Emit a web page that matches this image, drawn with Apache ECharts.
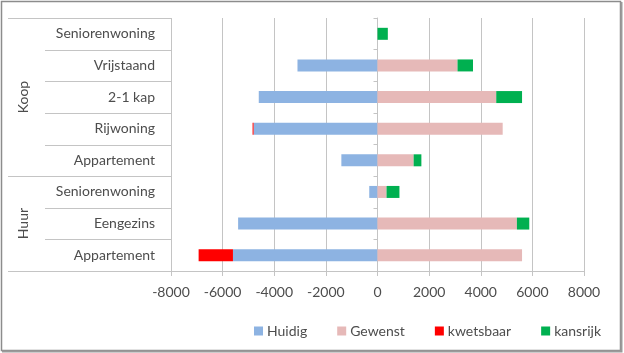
<!DOCTYPE html>
<html>
<head>
<meta charset="utf-8">
<script src="https://cdn.jsdelivr.net/npm/echarts@6/dist/echarts.min.js"></script>
<style>
html, body { margin: 0; padding: 0; background: #fff; }
#chart { width: 624px; height: 353px; }
</style>
</head>
<body>
<div id="chart"></div>
<script>
'use strict';
// categories from bottom to top (category axis starts at the bottom)
const categories = ['Appartement', 'Eengezins', 'Seniorenwoning', 'Appartement', 'Rijwoning', '2-1 kap', 'Vrijstaand', 'Seniorenwoning'];
const groups = [{ name: 'Huur', size: 3 }, { name: 'Koop', size: 5 }];
const huidig = [-5600, -5400, -320, -1400, -4800, -4600, -3100, 0];
const gewenst = [5600, 5400, 350, 1400, 4850, 4600, 3100, 0];
const kwetsbaar = [-1330, 0, 0, 0, -40, 0, 0, 0];
const kansrijk = [0, 480, 500, 300, 0, 1000, 600, 400];
const xMin = -8000;
const xMax = 8000;
const xStep = 2000;

const FONT = 'Lato, "Open Sans", sans-serif';
const TEXT = '#4d4d4d';
const GRID_COLOR = '#c4c4c4';
const grid = { left: 171, right: 40, top: 18, bottom: 82 };

const makeBar = (name, data, color) => ({
    name,
    type: 'bar',
    stack: 'total',
    barWidth: 12,
    data,
    itemStyle: { color },
    emphasis: { disabled: true },
});

const renderGraphic = (width, height) => {
    const plotH = height - grid.top - grid.bottom;
    const band = plotH / categories.length;
    const els = [];
    // frame round the whole chart
    els.push({
        type: 'rect',
        shape: { x: 1.5, y: 1.5, width: width - 5, height: height - 4 },
        style: { fill: 'none', stroke: '#8c8c8c', lineWidth: 1.5 },
        silent: true,
    });
    els.push({
        type: 'polyline',
        shape: { points: [[width - 2.5, 2], [width - 2.5, height - 1.5], [2, height - 1.5]] },
        style: { fill: 'none', stroke: '#9a9a9a', lineWidth: 2 },
        silent: true,
    });
    // separators for the two-level category labels
    let idx = 0;
    const groupLines = [0];
    groups.forEach(g => {
        idx += g.size;
        groupLines.push(idx);
    });
    for (let i = 0; i <= categories.length; i++) {
        const y = Math.round(height - grid.bottom - i * band) + 0.5;
        const isGroup = groupLines.indexOf(i) >= 0;
        els.push({
            type: 'line',
            shape: { x1: isGroup ? 8 : 45, y1: y, x2: grid.left, y2: y },
            style: { stroke: GRID_COLOR, lineWidth: 1 },
            silent: true,
        });
    }
    let start = 0;
    groups.forEach(g => {
        const yc = height - grid.bottom - (start + g.size / 2) * band;
        els.push({
            type: 'text',
            x: 23,
            y: yc,
            rotation: Math.PI / 2,
            style: {
                text: g.name,
                fill: TEXT,
                font: '14px ' + FONT,
                align: 'center',
                verticalAlign: 'middle',
            },
            silent: true,
        });
        start += g.size;
    });
    return els;
};

const renderOpts = (width, height) => {
    const lineColors = [];
    for (let v = xMin; v <= xMax; v += xStep) {
        lineColors.push(v === 0 ? 'rgba(0,0,0,0)' : GRID_COLOR);
    }
    return {
        animation: false,
        textStyle: { fontFamily: FONT },
        grid: grid,
        legend: {
            left: 249,
            top: 319,
            icon: 'rect',
            itemWidth: 9,
            itemHeight: 9,
            itemGap: 30,
            selectedMode: false,
            textStyle: { fontSize: 14, color: TEXT, fontFamily: FONT, padding: [0, 0, 0, -1] },
            data: ['Huidig', 'Gewenst', 'kwetsbaar', 'kansrijk'],
        },
        xAxis: {
            type: 'value',
            min: xMin,
            max: xMax,
            interval: xStep,
            axisLine: { show: true, lineStyle: { color: GRID_COLOR } },
            axisTick: { show: true, length: 5, lineStyle: { color: GRID_COLOR } },
            axisLabel: {
                fontSize: 14,
                color: TEXT,
                margin: 14,
                fontFamily: FONT,
                formatter: (value) => String(value),
            },
            splitLine: { show: true, lineStyle: { color: lineColors } },
        },
        yAxis: [
            {
                type: 'category',
                data: categories,
                position: 'left',
                axisLine: { show: false, onZero: false },
                axisTick: { show: false },
                axisLabel: { fontSize: 14, color: TEXT, margin: 16, fontFamily: FONT },
            },
            {
                // axis line with ticks where it crosses zero
                type: 'category',
                data: categories,
                position: 'left',
                axisLine: { show: true, onZero: true, lineStyle: { color: GRID_COLOR } },
                axisTick: { show: true, length: 4, lineStyle: { color: GRID_COLOR } },
                axisLabel: { show: false },
            },
        ],
        series: [
            makeBar('Huidig', huidig, '#8db3e2'),
            makeBar('Gewenst', gewenst, '#e6b9b8'),
            makeBar('kwetsbaar', kwetsbaar, '#ff0000'),
            makeBar('kansrijk', kansrijk, '#00b050'),
        ],
        graphic: renderGraphic(width, height),
    };
};

const dom = document.getElementById('chart');
const chart = echarts.init(dom, null, { renderer: 'canvas' });
chart.setOption(renderOpts(dom.clientWidth, dom.clientHeight));
</script>
</body>
</html>
